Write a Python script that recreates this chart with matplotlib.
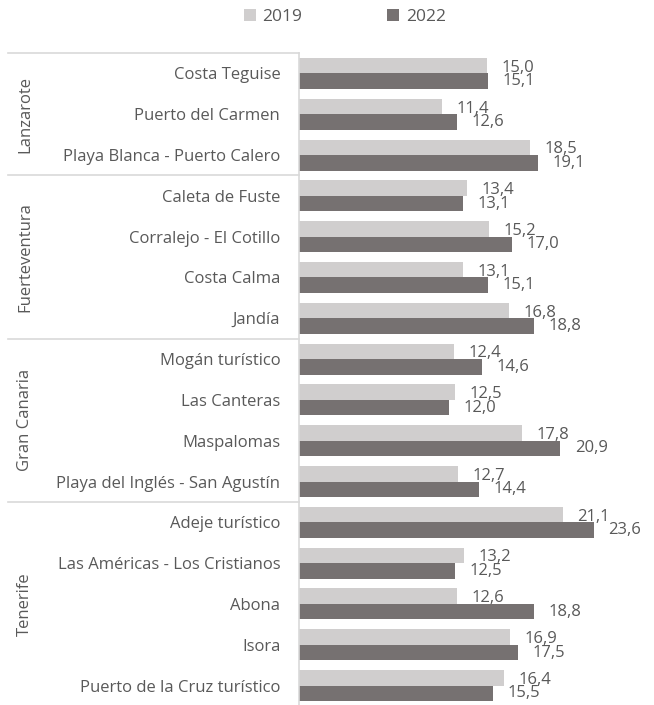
import matplotlib
matplotlib.use("Agg")
import matplotlib.pyplot as plt
import matplotlib.transforms as mtransforms

plt.rcParams['font.family'] = ['Open Sans', 'DejaVu Sans']

islands = ["Lanzarote", "Fuerteventura", "Gran Canaria", "Tenerife"]
island_sizes = [3, 4, 4, 5]
zones = ["Costa Teguise", "Puerto del Carmen", "Playa Blanca - Puerto Calero",
         "Caleta de Fuste", "Corralejo - El Cotillo", "Costa Calma", "Jandía",
         "Mogán turístico", "Las Canteras", "Maspalomas", "Playa del Inglés - San Agustín",
         "Adeje turístico", "Las Américas - Los Cristianos", "Abona", "Isora",
         "Puerto de la Cruz turístico"]
v2019 = [15.0, 11.4, 18.5, 13.4, 15.2, 13.1, 16.8, 12.4, 12.5, 17.8, 12.7,
         21.1, 13.2, 12.6, 16.9, 16.4]
v2022 = [15.1, 12.6, 19.1, 13.1, 17.0, 15.1, 18.8, 14.6, 12.0, 20.9, 14.4,
         23.6, 12.5, 18.8, 17.5, 15.5]

c19 = "#D0CECE"
c22 = "#767171"
txt = "#595959"
grid = "#D9D9D9"
fs = 12

fig = plt.figure(figsize=(6.54, 7.05), dpi=100)
ax = fig.add_axes([299/654, -1/705, 350/654, 653/705])

pos = list(range(len(zones)))
h = 0.38
ax.barh([p - h/2 for p in pos], v2019, height=h, color=c19, label="2019")
ax.barh([p + h/2 for p in pos], v2022, height=h, color=c22, label="2022")

# data labels, comma as decimal sign
for p, a, b in zip(pos, v2019, v2022):
    ax.annotate(f"{a:.1f}".replace(".", ","), (a, p - h/2), xytext=(10.5, -1.5),
                textcoords="offset points", va="center", ha="left", color=txt, fontsize=fs)
    ax.annotate(f"{b:.1f}".replace(".", ","), (b, p + h/2), xytext=(10.5, 0),
                textcoords="offset points", va="center", ha="left", color=txt, fontsize=fs)

ax.set_xlim(0, 28)
ax.set_ylim(len(zones) - 0.5, -0.5)
ax.set_yticks(pos)
ax.set_yticklabels(zones, color=txt, fontsize=fs)
ax.tick_params(axis="y", length=0, pad=13.5)
ax.set_xticks([])
for s in ["top", "right", "bottom"]:
    ax.spines[s].set_visible(False)
ax.spines["left"].set_color(grid)
ax.spines["left"].set_linewidth(1.2)

# island groups on the left
tr = mtransforms.blended_transform_factory(fig.transFigure, ax.transData)
start = 0
for name, n in zip(islands, island_sizes):
    ax.plot([8/654, 299/654], [start - 0.5, start - 0.5], transform=tr,
            color=grid, lw=1.2, clip_on=False)
    ax.text(25/654, start + (n - 1) / 2, name, transform=tr, rotation=90,
            ha="center", va="center", color=txt, fontsize=fs)
    start += n

fig.legend(loc="center", bbox_to_anchor=(345/654, 1 - 17/705), ncol=2, frameon=False,
           fontsize=12.5, labelcolor=txt, handlelength=0.65, handleheight=0.65,
           handletextpad=0.4, columnspacing=4.9)

fig.savefig("out.png", dpi=100)
